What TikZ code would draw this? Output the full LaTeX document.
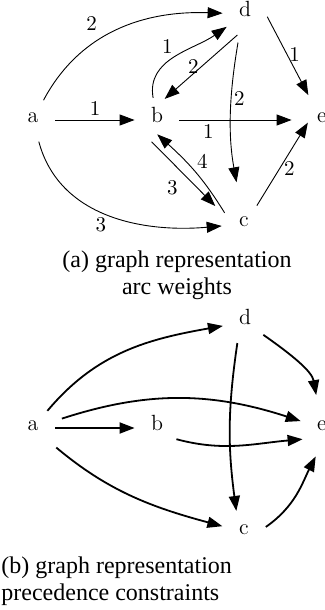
\documentclass[tikz,border=0pt]{standalone}
\usepackage{fontspec}
\newfontfamily\capfont{Liberation Serif}
\usetikzlibrary{arrows.meta}

\begin{document}
\begin{tikzpicture}[x=0.5pt, y=-0.5pt,
        vertex/.style={circle, minimum size=22pt, inner sep=0pt, font=\fontsize{11}{13}\selectfont, text height=1.2ex, text depth=0.6ex},
        wt/.style={font=\fontsize{10.5}{12}\selectfont, inner sep=1pt},
        arc/.style={-{Triangle[length=7.5pt, width=5.5pt]}, line width=0.45pt},
        prec/.style={-{Triangle[length=7.5pt, width=5.5pt]}, line width=0.9pt},
        capt/.style={font=\capfont\fontsize{12}{13.5}\selectfont, inner sep=0pt},
    ]
        \useasboundingbox (0,0) rectangle (325,610);

        % (a) arc weights
        \node[vertex] (wa) at (33, 120) {a};
        \node[vertex] (wb) at (157, 120) {b};
        \node[vertex] (wd) at (245, 14) {d};
        \node[vertex] (we) at (322, 120) {e};
        \node[vertex] (wc) at (244, 224) {c};

        \draw[arc] (wa) to[out=62, in=178] node[wt, pos=0.42, above left=2pt] {2} (wd);
        \draw[arc] (wa) -- node[wt, above=1pt] {1} (wb);
        \draw[arc] (wa) to[out=-75, in=185] node[wt, pos=0.5, below left] {3} (wc);
        \draw[arc] (wb) to[out=100, in=215] node[wt, pos=0.5, above left] {1} (wd);
        \draw[arc] (wd.250) -- node[wt, left] {2} (wb.70);
        \draw[arc, shorten <=3.5pt, shorten >=10pt] (wd.255) to[bend right=10] node[wt, pos=0.37, right] {2} (wc.100);
        \draw[arc, shorten >=3pt] (wd.-7) -- node[wt, pos=0.45, right] {1} (we.119);
        \draw[arc, shorten >=4pt] (wb) -- node[wt, pos=0.24, below=1pt] {1} (we);
        \draw[arc, shorten >=6pt] (wb.256) -- node[wt, pos=0.45, below left=2pt] {3} (wc.155);
        \draw[arc, shorten >=-5pt] (wc.150) to[bend right=8] node[wt, pos=0.55, above right] {4} (wb.-70);
        \draw[arc, shorten >=-5pt] (wc.55) -- node[wt, right=1pt] {2} (we.210);

        \node[capt, align=center, anchor=north] (capa) at (177, 250) {(a) graph representation\\arc weights};

        % (b) precedence constraints
        \node[vertex] (pa) at (33, 428) {a};
        \node[vertex] (pb) at (157, 428) {b};
        \node[vertex] (pd) at (245, 322) {d};
        \node[vertex] (pe) at (322, 428) {e};
        \node[vertex] (pc) at (244, 532) {c};

        \draw[prec] (pa) to[out=50, in=190] (pd);
        \draw[prec, shorten <=4pt] (pa) to[out=18, in=162] (pe);
        \draw[prec] (pa) -- (pb);
        \draw[prec, shorten <=4pt] (pa) to[out=-40, in=165] (pc);
        \draw[prec] (pb.-30) to[out=-15, in=185] (pe.210);
        \draw[prec, shorten >=5.5pt] (pd) to[out=-35, in=100] (pe);
        \draw[prec] (pd.250) to[bend right=8] (pc.110);
        \draw[prec, shorten >=3.5pt] (pc.13) to[out=35, in=-117] (pe.262);

        \node[capt, align=left, anchor=north west] (capb) at (1, 556) {(b) graph representation\\precedence constraints};
    \end{tikzpicture}
\end{document}
